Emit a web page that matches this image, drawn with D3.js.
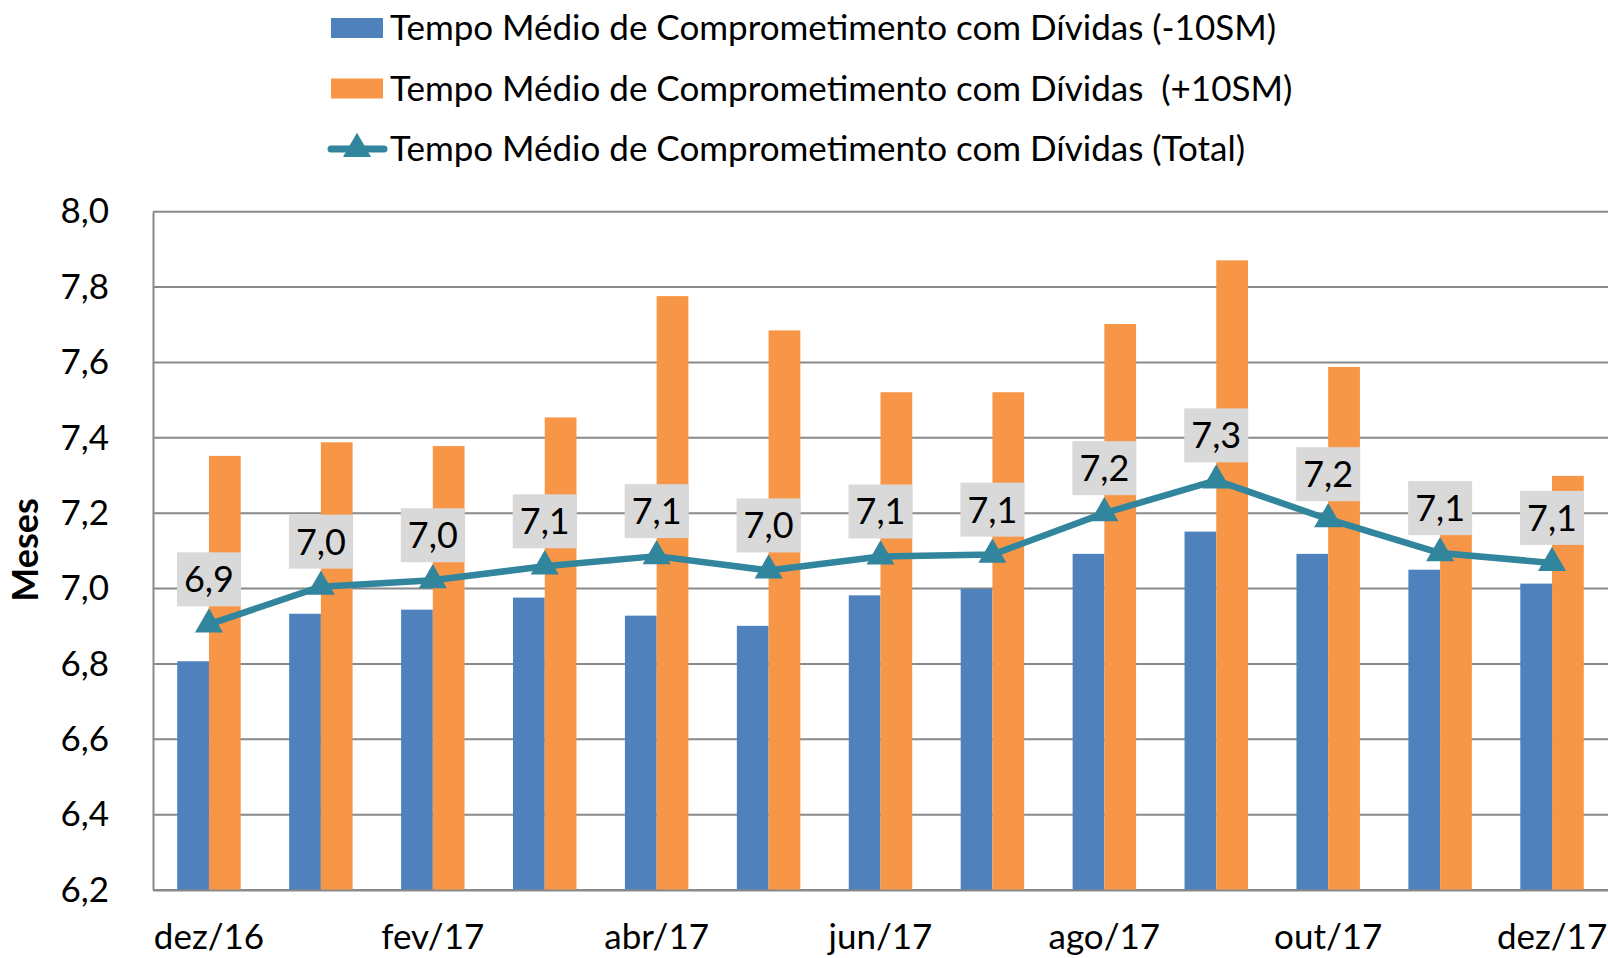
<!DOCTYPE html>
<html>
<head>
<meta charset="utf-8">
<script src="https://cdn.jsdelivr.net/npm/d3@7"></script>
<style>
  html, body { margin: 0; padding: 0; background: #fff; }
  svg { display: block; font-family: Lato, "Open Sans", sans-serif; }
</style>
</head>
<body>
<div id="chart"></div>
<script>
const months = ["dez/16", "jan/17", "fev/17", "mar/17", "abr/17", "mai/17", "jun/17",
  "jul/17", "ago/17", "set/17", "out/17", "nov/17", "dez/17"];
const below10 = [6.807, 6.933, 6.944, 6.976, 6.928, 6.901, 6.982, 6.999, 7.092, 7.151, 7.092, 7.050, 7.013];
const above10 = [7.352, 7.388, 7.378, 7.454, 7.776, 7.685, 7.521, 7.521, 7.702, 7.871, 7.588, 7.250, 7.299];
const total = [6.905, 7.005, 7.022, 7.059, 7.086, 7.048, 7.085, 7.090, 7.200, 7.287, 7.184, 7.094, 7.068];
const xTickLabels = ["dez/16", "fev/17", "abr/17", "jun/17", "ago/17", "out/17", "dez/17"];
const yTicks = [6.2, 6.4, 6.6, 6.8, 7.0, 7.2, 7.4, 7.6, 7.8, 8.0];
const seriesNames = [
  "Tempo Médio de Comprometimento com Dívidas (-10SM)",
  "Tempo Médio de Comprometimento com Dívidas  (+10SM)",
  "Tempo Médio de Comprometimento com Dívidas (Total)"
];

const colors = { below: "#4f81bd", above: "#f79646", total: "#31859c" };

const W = 1608, H = 958;
const plot = { left: 153, right: 1608, top: 211.7, bottom: 890 };

const ptBR = d3.formatLocale({ decimal: ",", thousands: ".", grouping: [3], currency: ["R$", ""] });
const fmt = ptBR.format(".1f");

const svg = d3.select("#chart").append("svg")
  .attr("width", W)
  .attr("height", H);

svg.append("rect").attr("width", W).attr("height", H).attr("fill", "#fff");

const x = d3.scaleBand()
  .domain(months)
  .range([plot.left, plot.right])
  .paddingInner(0.433)
  .paddingOuter(0.2165);

const xSub = d3.scaleBand()
  .domain(["below", "above"])
  .range([0, x.bandwidth()]);

const y = d3.scaleLinear()
  .domain([6.2, 8.0])
  .range([plot.bottom, plot.top]);

// gridlines
svg.append("g")
  .selectAll("line")
  .data(yTicks)
  .join("line")
  .attr("x1", plot.left)
  .attr("x2", plot.right)
  .attr("y1", d => y(d))
  .attr("y2", d => y(d))
  .attr("stroke", "#898989")
  .attr("stroke-width", 2);

// y axis
const yAxis = svg.append("g")
  .attr("transform", `translate(${plot.left},0)`)
  .call(d3.axisLeft(y).tickValues(yTicks).tickFormat(fmt).tickSize(0).tickPadding(44));
yAxis.select(".domain").attr("stroke", "#898989").attr("stroke-width", 2);
yAxis.selectAll("text")
  .attr("font-family", "Lato, sans-serif")
  .attr("font-size", 35)
  .attr("fill", "#000");

svg.append("text")
  .attr("transform", "translate(38,550) rotate(-90)")
  .attr("text-anchor", "middle")
  .attr("font-size", 36)
  .attr("font-weight", "bold")
  .text("Meses");

// bars
const groups = svg.append("g")
  .selectAll("g")
  .data(months)
  .join("g")
  .attr("transform", d => `translate(${x(d)},0)`);

groups.append("rect")
  .attr("x", xSub("below"))
  .attr("width", xSub.bandwidth())
  .attr("y", (d, i) => y(below10[i]))
  .attr("height", (d, i) => y(6.2) - y(below10[i]))
  .attr("fill", colors.below);

groups.append("rect")
  .attr("x", xSub("above"))
  .attr("width", xSub.bandwidth())
  .attr("y", (d, i) => y(above10[i]))
  .attr("height", (d, i) => y(6.2) - y(above10[i]))
  .attr("fill", colors.above);

// x axis
const xAxis = svg.append("g")
  .attr("transform", `translate(0,${plot.bottom})`)
  .call(d3.axisBottom(x).tickValues(xTickLabels).tickSize(0).tickPadding(34));
xAxis.select(".domain").attr("stroke", "#898989").attr("stroke-width", 2);
xAxis.selectAll("text")
  .attr("font-family", "Lato, sans-serif")
  .attr("font-size", 35)
  .attr("fill", "#000");

// total line
const cx = d => x(d) + x.bandwidth() / 2;
const line = d3.line()
  .x((d, i) => cx(months[i]))
  .y(d => y(d));

svg.append("path")
  .datum(total)
  .attr("fill", "none")
  .attr("stroke", colors.total)
  .attr("stroke-width", 6.5)
  .attr("stroke-linejoin", "round")
  .attr("d", line);

const tri = d3.symbol().type(d3.symbolTriangle).size(340);
svg.append("g")
  .selectAll("path")
  .data(total)
  .join("path")
  .attr("d", tri)
  .attr("transform", (d, i) => `translate(${cx(months[i])},${y(d)})`)
  .attr("fill", colors.total);

// data labels
const labels = svg.append("g")
  .selectAll("g")
  .data(total)
  .join("g")
  .attr("transform", (d, i) => `translate(${cx(months[i])},${y(d) - 18})`);

labels.append("rect")
  .attr("x", -32)
  .attr("y", -54)
  .attr("width", 64)
  .attr("height", 54)
  .attr("fill", "#d9d9d9");

labels.append("text")
  .attr("y", -27)
  .attr("dy", "0.36em")
  .attr("text-anchor", "middle")
  .attr("font-size", 36)
  .text(d => fmt(d));

// legend
const legend = svg.append("g")
  .selectAll("g")
  .data(seriesNames)
  .join("g")
  .attr("transform", (d, i) => `translate(0,${28 + i * 60.5})`);

legend.filter((d, i) => i < 2).append("rect")
  .attr("x", 331)
  .attr("y", -10)
  .attr("width", 52)
  .attr("height", 20)
  .attr("fill", (d, i) => i === 0 ? colors.below : colors.above);

const lgLine = legend.filter((d, i) => i === 2);
lgLine.append("line")
  .attr("x1", 331)
  .attr("x2", 384)
  .attr("stroke", colors.total)
  .attr("stroke-width", 7)
  .attr("stroke-linecap", "round");
lgLine.append("path")
  .attr("d", tri)
  .attr("transform", "translate(357,0)")
  .attr("fill", colors.total);

legend.append("text")
  .attr("x", 390)
  .attr("dy", "0.35em")
  .attr("font-size", 35)
  .style("white-space", "pre")
  .text(d => d);
</script>
</body>
</html>
